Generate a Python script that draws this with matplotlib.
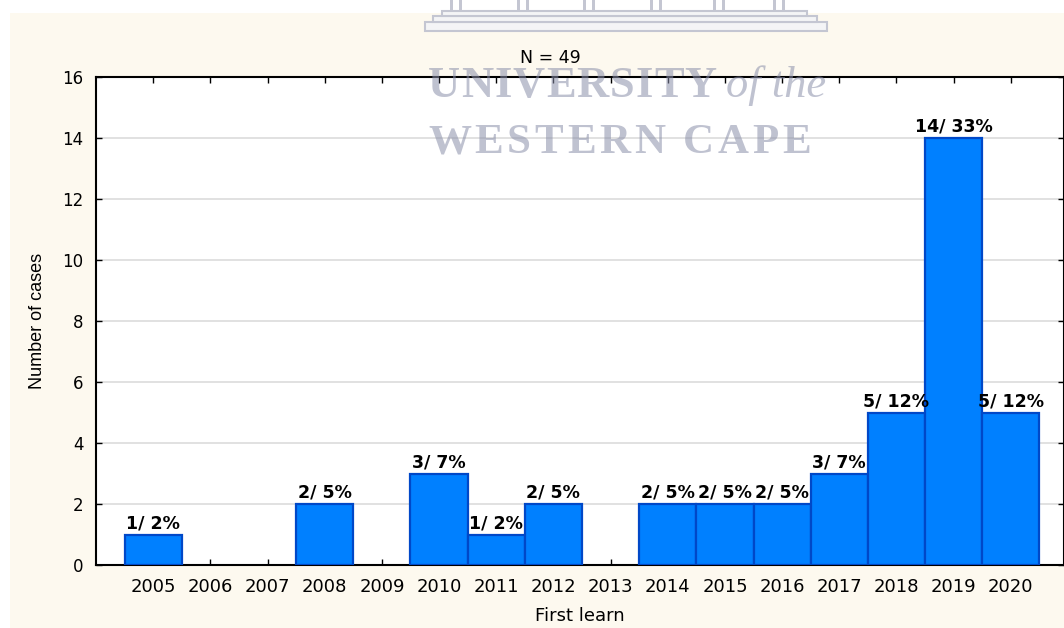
import matplotlib
matplotlib.use('Agg')
import matplotlib.pyplot as plt
import matplotlib.patches as patches
from matplotlib import font_manager

# data
years = [2005, 2006, 2007, 2008, 2009, 2010, 2011, 2012,
         2013, 2014, 2015, 2016, 2017, 2018, 2019, 2020]
counts = [1, 0, 0, 2, 0, 3, 1, 2, 0, 2, 2, 2, 3, 5, 14, 5]
y_ticks = [0, 2, 4, 6, 8, 10, 12, 14, 16]
n_label = 'N = 49'

# narrow font for the y label if it exists
names = {f.name for f in font_manager.fontManager.ttflist}
narrow = 'Liberation Sans Narrow' if 'Liberation Sans Narrow' in names else 'Liberation Sans'

W, H = 1064, 628
fig = plt.figure(figsize=(W / 100, H / 100), dpi=100)
fig.patch.set_facecolor('white')
renderer = fig.canvas.get_renderer()

# cream panel behind the chart
cream = patches.Rectangle((10 / W, 0), 1 - 10 / W, 1 - 13 / H, transform=fig.transFigure,
                          facecolor='#fdf9ef', edgecolor='none', zorder=-2)
fig.add_artist(cream)

ax = fig.add_axes([96 / W, 1 - 565 / H, 1 - 96 / W, (565 - 77) / H])
ax.set_facecolor('white')

total = sum(counts)
shown = [(y, c) for y, c in zip(years, counts) if c > 0]
ax.bar([s[0] for s in shown], [s[1] for s in shown], width=1.0,
       color='#0080ff', edgecolor='#0048c8', linewidth=1.6, zorder=3)

for y, c in shown:
    ax.annotate(f'{c}/ {round(100 * c / total)}%', (y, c), xytext=(0, 1.5),
                textcoords='offset points', ha='center', va='bottom',
                fontsize=12.5, fontweight='bold', family='DejaVu Sans', zorder=4)

ax.set_xlim(2004, 2020.93)
ax.set_ylim(0, 16)
ax.set_xticks(years)
ax.set_xticklabels([str(y) for y in years], fontsize=13)
ax.set_yticks(y_ticks)
ax.set_yticklabels([str(v) for v in y_ticks], fontsize=12)
ax.tick_params(axis='x', direction='in', top=True, length=4, width=1, pad=9)
ax.tick_params(axis='y', direction='in', right=True, length=4, width=1, pad=9)
ax.grid(axis='y', color='#d9d9d9', linewidth=1.1, zorder=0)
ax.set_axisbelow(True)
for s in ax.spines.values():
    s.set_linewidth(1.5)

ax.set_xlabel('First learn', fontsize=13, labelpad=8)
ax.set_ylabel('Number of cases', fontsize=14 if narrow != 'Liberation Sans' else 13,
              family=narrow, labelpad=12)
fig.text(550 / W, 1 - 58 / H, n_label, ha='center', va='center', fontsize=12.5)


def spaced(x_px, y_px, s, gap, **kw):
    # place letters one by one with extra tracking (pixels)
    x = x_px
    for ch in s:
        t = fig.text(x / W, 1 - y_px / H, ch, va='baseline', **kw)
        w = t.get_window_extent(renderer).width if ch != ' ' else 11
        x += w + gap
    return x


# faint university watermark over the chart
wm = dict(family='Liberation Serif', color='#8b90aa', alpha=0.55)
end = spaced(428, 97, 'UNIVERSITY', 1.0, fontweight='bold', fontsize=32, **wm)
fig.text((end + 8) / W, 1 - 97 / H, 'of the', style='italic', fontsize=32,
         va='baseline', **wm)
spaced(428, 153, 'WESTERN CAPE', 3.6, fontweight='bold', fontsize=31, **wm)

# building steps of the logo
steps = [(425, 22, 402, 9), (433, 16, 384, 6), (442, 11, 365, 5)]
for x0, y0, w, h in steps:
    fig.add_artist(patches.Rectangle((x0 / W, 1 - (y0 + h) / H), w / W, h / H,
                                     transform=fig.transFigure, facecolor='#f4f4f6',
                                     edgecolor='#c4c6d2', linewidth=1.5, zorder=-1))
for cx in [450, 517, 583, 650, 713, 773]:
    for dx in [0, 9]:
        fig.add_artist(patches.Rectangle(((cx + dx) / W, 1 - 11 / H), 3 / W, 11 / H,
                                         transform=fig.transFigure, facecolor='#c4c6d2',
                                         edgecolor='none', zorder=-1))

fig.savefig('out.png', dpi=100)
